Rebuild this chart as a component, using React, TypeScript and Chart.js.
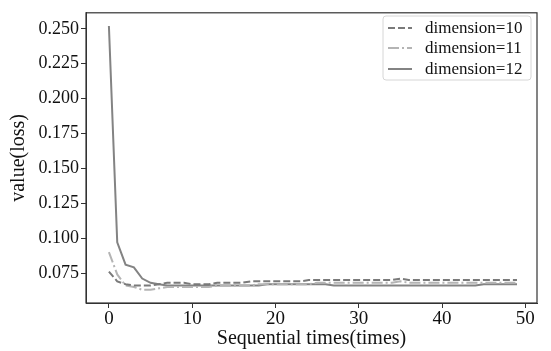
import React, { useEffect, useRef } from "react";
import { Chart, registerables } from "chart.js";

Chart.register(...registerables);

const steps: number[] = Array.from({ length: 50 }, (_, i) => i);
const xTicks = [0, 10, 20, 30, 40, 50];
const yTicks = [0.075, 0.1, 0.125, 0.15, 0.175, 0.2, 0.225, 0.25];
const seriesNames = ["dimension=10", "dimension=11", "dimension=12"];

const dim10 = [0.076, 0.069, 0.067, 0.066, 0.066, 0.066, 0.067, 0.068, 0.068, 0.068, 0.067, 0.067, 0.067, 0.068, 0.068, 0.068, 0.068, 0.069, 0.069, 0.069, 0.069, 0.069, 0.069, 0.069, 0.070, 0.070, 0.070, 0.070, 0.070, 0.070, 0.070, 0.070, 0.070, 0.070, 0.070, 0.071, 0.070, 0.070, 0.070, 0.070, 0.070, 0.070, 0.070, 0.070, 0.070, 0.070, 0.070, 0.070, 0.070, 0.070];
const dim11 = [0.090, 0.074, 0.066, 0.065, 0.063, 0.063, 0.064, 0.065, 0.065, 0.065, 0.065, 0.065, 0.065, 0.066, 0.066, 0.066, 0.066, 0.066, 0.067, 0.067, 0.067, 0.067, 0.067, 0.067, 0.067, 0.068, 0.068, 0.068, 0.068, 0.068, 0.068, 0.068, 0.068, 0.068, 0.068, 0.069, 0.068, 0.068, 0.068, 0.068, 0.068, 0.068, 0.068, 0.068, 0.068, 0.068, 0.068, 0.068, 0.068, 0.068];
const dim12 = [0.252, 0.097, 0.081, 0.079, 0.071, 0.068, 0.067, 0.066, 0.066, 0.066, 0.066, 0.066, 0.066, 0.066, 0.066, 0.066, 0.066, 0.066, 0.066, 0.067, 0.067, 0.067, 0.067, 0.067, 0.067, 0.067, 0.067, 0.066, 0.066, 0.066, 0.066, 0.066, 0.066, 0.066, 0.066, 0.066, 0.066, 0.066, 0.066, 0.066, 0.066, 0.066, 0.066, 0.066, 0.066, 0.067, 0.067, 0.067, 0.067, 0.067];

const FONT = "'Liberation Serif', 'DejaVu Serif', serif";
const colors = ["#7a7a7a", "#b4b4b4", "#838383"];
const dashes: number[][] = [[7, 3], [11, 3, 2, 3], []];

const framePlugin = {
  id: "frameAndLegend",
  afterDraw(chart: any) {
    const { ctx, chartArea } = chart;
    const { left, right, top, bottom } = chartArea;
    ctx.save();
    ctx.strokeStyle = "#333";
    ctx.lineWidth = 1.2;
    ctx.setLineDash([]);
    ctx.strokeRect(left, top, right - left, bottom - top);

    // legend
    const bx = 383, by = 16, bw = 148, bh = 64;
    ctx.fillStyle = "rgba(255,255,255,0.85)";
    ctx.strokeStyle = "#d6d6d6";
    ctx.lineWidth = 1;
    ctx.beginPath();
    const r = 3;
    ctx.moveTo(bx + r, by);
    ctx.lineTo(bx + bw - r, by);
    ctx.arcTo(bx + bw, by, bx + bw, by + r, r);
    ctx.lineTo(bx + bw, by + bh - r);
    ctx.arcTo(bx + bw, by + bh, bx + bw - r, by + bh, r);
    ctx.lineTo(bx + r, by + bh);
    ctx.arcTo(bx, by + bh, bx, by + bh - r, r);
    ctx.lineTo(bx, by + r);
    ctx.arcTo(bx, by, bx + r, by, r);
    ctx.closePath();
    ctx.fill();
    ctx.stroke();

    ctx.font = `17px ${FONT}`;
    ctx.textBaseline = "middle";
    ctx.textAlign = "left";
    const rows = [28, 48, 69];
    seriesNames.forEach((name, i) => {
      const y = rows[i];
      ctx.strokeStyle = colors[i];
      ctx.lineWidth = 2;
      ctx.setLineDash(dashes[i]);
      ctx.beginPath();
      ctx.moveTo(388, y);
      ctx.lineTo(412, y);
      ctx.stroke();
      ctx.setLineDash([]);
      ctx.fillStyle = "#111";
      ctx.fillText(name, 425, y + 1);
    });
    ctx.restore();
  },
};

export default function App() {
  const ref = useRef<HTMLCanvasElement | null>(null);
  useEffect(() => {
    document.body.style.margin = "0";
    if (!ref.current) return;
    const data = [dim10, dim11, dim12];
    const chart = new Chart(ref.current, {
      type: "line",
      data: {
        datasets: seriesNames.map((name, i) => ({
          label: name,
          data: steps.map((s, j) => ({ x: s, y: data[i][j] })),
          borderColor: colors[i],
          borderWidth: 2,
          borderDash: dashes[i],
          pointRadius: 0,
          tension: 0,
          fill: false,
        })),
      },
      options: {
        animation: false,
        responsive: false,
        maintainAspectRatio: false,
        layout: { padding: { top: 9, right: 14, left: 0, bottom: 0 } },
        plugins: { legend: { display: false }, tooltip: { enabled: false } },
        scales: {
          x: {
            type: "linear",
            min: -2.75,
            max: 51.4,
            afterBuildTicks: (s: any) => {
              s.ticks = xTicks.map((v) => ({ value: v }));
            },
            afterFit: (s: any) => {
              s.height = 48;
            },
            ticks: {
              color: "#111",
              font: { family: FONT, size: 19 },
              padding: 0,
              maxRotation: 0,
              autoSkip: false,
            },
            grid: { drawOnChartArea: false, drawTicks: true, tickLength: 5, color: "#333" },
            border: { display: true, color: "#333" },
            title: {
              display: true,
              text: "Sequential times(times)",
              color: "#111",
              font: { family: FONT, size: 20 },
              padding: { top: -4, bottom: 0 },
            },
          },
          y: {
            type: "linear",
            min: 0.0535,
            max: 0.2615,
            afterBuildTicks: (s: any) => {
              s.ticks = yTicks.map((v) => ({ value: v }));
            },
            afterFit: (s: any) => {
              s.width = 86;
            },
            ticks: {
              color: "#111",
              font: { family: FONT, size: 18 },
              padding: 2,
              callback: (v: any) => Number(v).toFixed(3),
            },
            grid: { drawOnChartArea: false, drawTicks: true, tickLength: 5, color: "#333" },
            border: { display: true, color: "#333" },
            title: {
              display: true,
              text: "value(loss)",
              color: "#111",
              font: { family: FONT, size: 20 },
              padding: { top: 7, bottom: 0 },
            },
          },
        },
      },
      plugins: [framePlugin],
    });
    return () => chart.destroy();
  }, []);
  return <canvas ref={ref} width={551} height={351} style={{ display: "block" }} />;
}
